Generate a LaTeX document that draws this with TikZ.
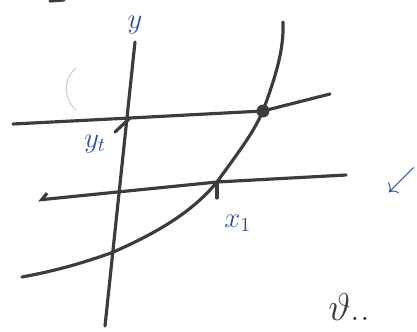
\documentclass[tikz,border=0pt]{standalone}
\usetikzlibrary{arrows.meta, positioning}
\definecolor{ink}{HTML}{3C3C3C}
\definecolor{pen}{HTML}{2F4F9F}

\begin{document}
\begin{tikzpicture}[x=0.03cm, y=-0.03cm, >=Stealth, line cap=round,
  stroke/.style={draw=ink, line width=2.7pt},
  lbl/.style={text=pen, font=\Large, scale=1.7, inner sep=0pt}]
  \useasboundingbox (0,0) rectangle (417,331);
  % where the lines meet
  \coordinate (yt) at (130,118);
  \coordinate (hit) at (263,111);
  \coordinate (x1) at (217,182);
  \coordinate (low) at (111,253);
  \coordinate (ytop) at (135,42);
  \coordinate (ybot) at (105,326);

  % axis and the two levels
  \draw[stroke] (ytop) -- (ybot);
  \draw[stroke] (13,124) coordinate (upL) -- (yt) -- (hit) -- (330,94) coordinate (upR);
  \draw[stroke, {Straight Barb[right, length=5pt]}-] (38,200) coordinate (loL) -- (x1) -- (346,175) coordinate (loR);

  % the curve
  \draw[stroke] (22,277) coordinate (cL) .. controls (60,270) and (85,262) .. (low)
    .. controls (150,236) and (190,215) .. (x1)
    .. controls (240,150) and (252,135) .. (hit)
    .. controls (276,75) and (284,50) .. (283,22) coordinate (cT);

  % marks
  \fill[ink] (hit) circle (5.5pt);
  \draw[stroke] (115,132) coordinate (ytick) -- (yt);
  \draw[stroke] (x1) -- (217,198) coordinate (xtick);
  \draw[gray!35, line width=1pt] (76,68) .. controls (62,80) and (64,100) .. (76,110);
  \draw[stroke] (50,1) -- (64,0);

  % labels
  \node[lbl, above=6pt of ytop] (ylab) {$y$};
  \node[lbl, below left=14pt and 20pt of yt] (ytlab) {$y_t$};
  \node[lbl, below right=28pt and 6pt of x1] (x1lab) {$x_1$};
  \node[lbl] (mark) at (402,180) {$\swarrow$};
  \node[text=ink, font=\huge, scale=1.6, anchor=base west, inner sep=0pt] (theta) at (328,320) {$\vartheta$..};
\end{tikzpicture}
\end{document}
